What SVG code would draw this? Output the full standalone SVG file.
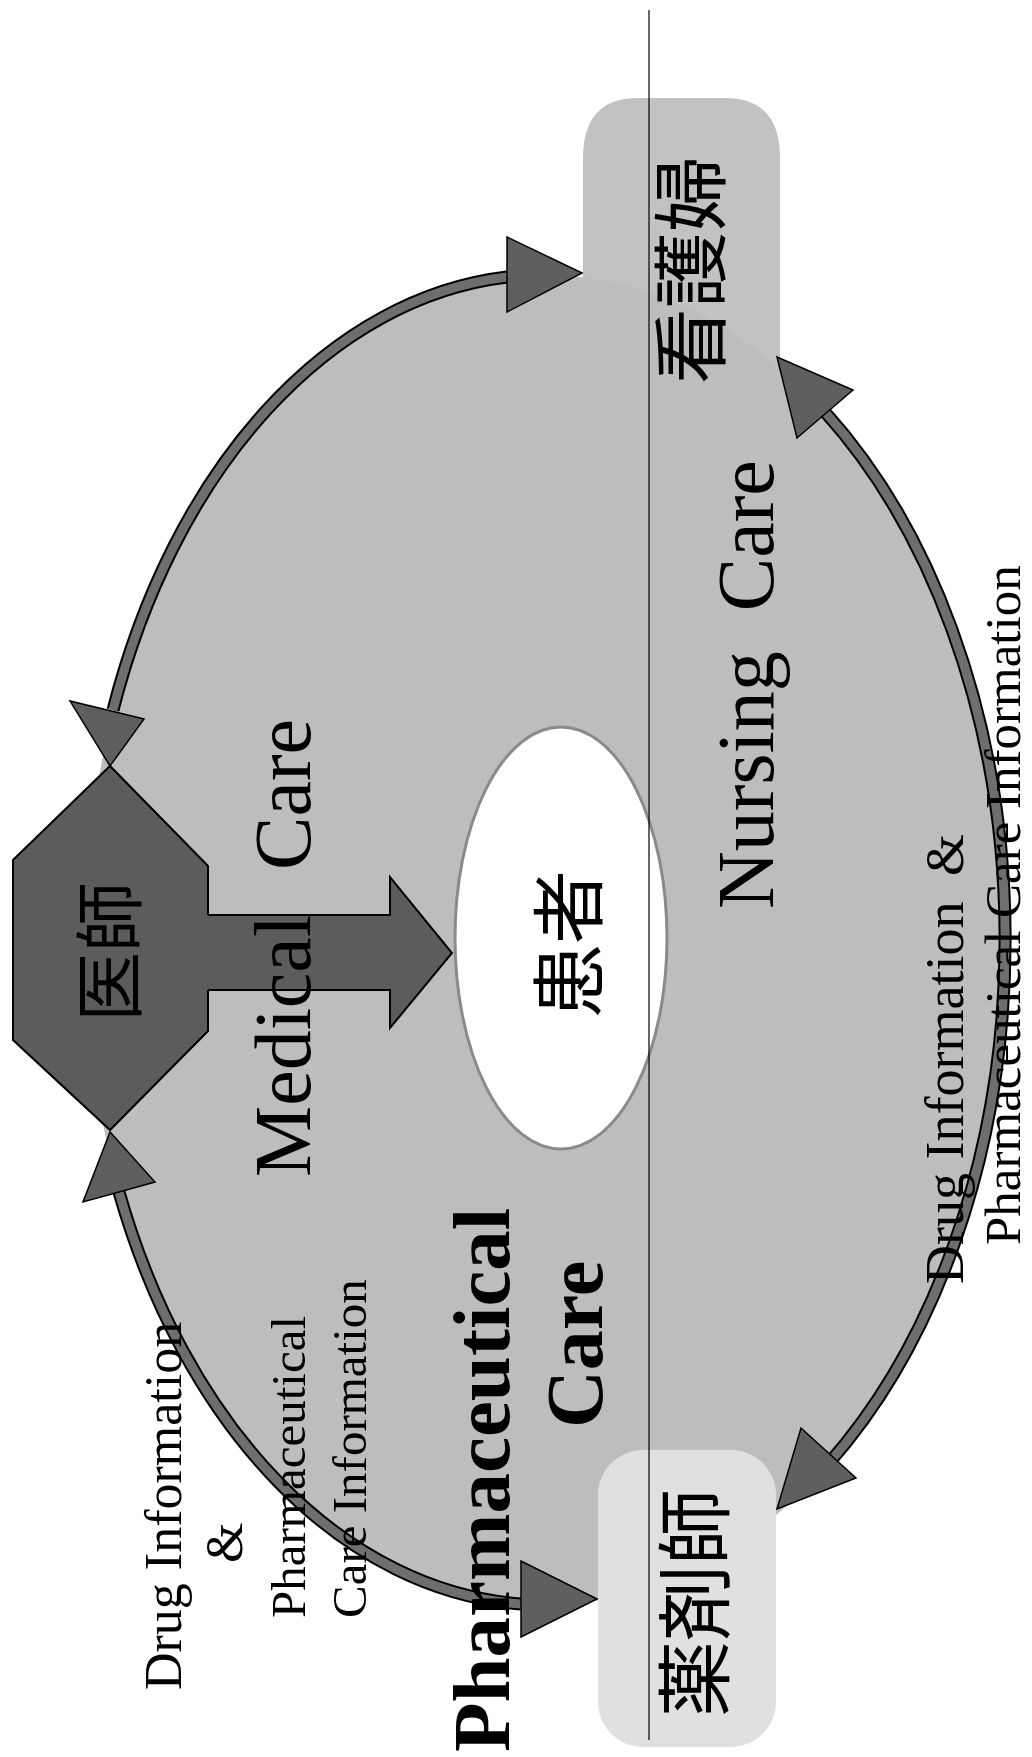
<svg xmlns="http://www.w3.org/2000/svg" width="1032" height="1757" viewBox="0 0 1032 1757">
<style>
.serif{font-family:"Liberation Serif","Times New Roman",serif;fill:#000}
.bold{font-weight:bold}
.cjk{font-family:"Noto Sans CJK JP","Noto Sans CJK SC",sans-serif;fill:#000}
.c{text-anchor:middle;dominant-baseline:central}
.arcb{fill:none;stroke:#000;stroke-width:13}
.arcf{fill:none;stroke:#6e6e6e;stroke-width:9}
.head{fill:#5f5f5f;stroke:#000;stroke-width:1.5;stroke-linejoin:miter}
.dark{fill:#5c5c5c}
</style>
<rect width="1032" height="1757" fill="#fff"/>
<g id="nurse">
<path d="M583,158 Q583,98 638,98 L725,98 Q780,98 780,158 L780,520 L583,520 Z" fill="#c2c2c2"/>
</g>
<g id="care-area">
<ellipse cx="545" cy="940" rx="460" ry="665" fill="#bdbdbd"/>
</g>
<g id="pharmacist">
<rect x="598" y="1450" width="178" height="297" rx="45" fill="#e0e0e0"/>
</g>
<g id="patient">
<ellipse cx="561" cy="938" rx="106" ry="211" fill="#fff" stroke="#8a8a8a" stroke-width="3"/>
<text class="cjk c" font-size="74" transform="translate(563,944) rotate(-90)">患者</text>
</g>
<g id="doctor">
<polygon points="13,860 110,766 208,866 208,1031 110,1130 13,1040" class="dark" stroke="#000" stroke-width="2"/>
</g>
<g id="connectors">
<polygon points="200,915 390,915 390,877 452,953 390,1028 390,990 200,990" class="dark"/>
<polyline points="208,915 390,915 390,877 452,953 390,1028 390,990 208,990" fill="none" stroke="#000" stroke-width="2"/>
<path class="arcb" d="M113,710 A460,665 0 0 1 507,277"/>
<path class="arcf" d="M113,710 A460,665 0 0 1 507,277"/>
<path class="arcb" d="M825,412 A460,665 0 0 1 829,1463"/>
<path class="arcf" d="M825,412 A460,665 0 0 1 829,1463"/>
<path class="arcb" d="M119,1192 A460,665 0 0 0 521,1604"/>
<path class="arcf" d="M119,1192 A460,665 0 0 0 521,1604"/>
<polygon class="head" points="582,273 507,237 507,312"/>
<polygon class="head" points="110,766 70,701 144,719"/>
<polygon class="head" points="777,357 853,390 797,438"/>
<polygon class="head" points="777,1509 801,1428 856,1478"/>
<polygon class="head" points="597,1599 521,1561 521,1637"/>
<polygon class="head" points="110,1132 83,1202 155,1182"/>
</g>
<g id="node-labels">
<text class="cjk c" font-size="70" transform="translate(105,952) rotate(-90)">医師</text>
<text class="cjk c" font-size="76" transform="translate(686,270) rotate(-90)">看護婦</text>
<text class="cjk c" font-size="76" transform="translate(690,1603) rotate(-90)">薬剤師</text>
</g>
<g id="labels">
<text class="serif" font-size="80" word-spacing="25" transform="translate(310,1177) rotate(-90)">Medical Care</text>
<text class="serif" font-size="80" word-spacing="20" transform="translate(773,909) rotate(-90)">Nursing Care</text>
<text class="serif bold" font-size="81" transform="translate(509,1752) rotate(-90)">Pharmaceutical</text>
<text class="serif bold" font-size="80" transform="translate(602,1428) rotate(-90)">Care</text>
<text class="serif" font-size="52" transform="translate(181,1690) rotate(-90)">Drug Information</text>
<text class="serif" font-size="52" transform="translate(242,1563) rotate(-90)">&amp;</text>
<text class="serif" font-size="49" transform="translate(305,1618) rotate(-90)">Pharmaceutical</text>
<text class="serif" font-size="49" transform="translate(366,1618) rotate(-90)">Care Information</text>
<text class="serif" font-size="54" transform="translate(963,1284) rotate(-90)">Drug Information <tspan dx="12">&amp;</tspan></text>
<text class="serif" font-size="51" transform="translate(1020,1245) rotate(-90)">Pharmaceutical Care Information</text>
</g>
<g id="divider">
<line x1="649" y1="10" x2="649" y2="1740" stroke="#000" stroke-width="1.2"/>
</g>
</svg>
